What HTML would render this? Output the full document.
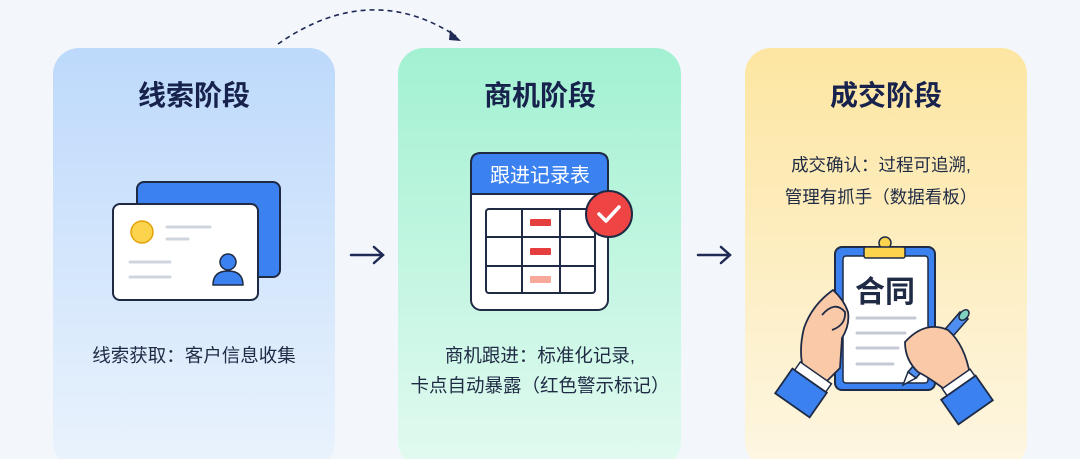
<!DOCTYPE html>
<html><head><meta charset="utf-8"><style>
html,body{margin:0;padding:0;background:#f3f7fb;}
svg{display:block}
text{font-family:"Liberation Sans","Noto Sans CJK SC",sans-serif;}
</style></head><body>
<svg width="1080" height="459" viewBox="0 0 1080 459" xmlns="http://www.w3.org/2000/svg">
<defs>
<linearGradient id="g1" x1="0" y1="0" x2="0" y2="1"><stop offset="0" stop-color="#bdd9fb"/><stop offset="1" stop-color="#eaf3fd"/></linearGradient>
<linearGradient id="g2" x1="0" y1="0" x2="0" y2="1"><stop offset="0" stop-color="#a2f1d2"/><stop offset="1" stop-color="#e2faf0"/></linearGradient>
<linearGradient id="g3" x1="0" y1="0" x2="0" y2="1"><stop offset="0" stop-color="#fde6a2"/><stop offset="1" stop-color="#fdf6e2"/></linearGradient>
</defs>
<rect width="1080" height="459" fill="#f3f7fb"/>
<rect x="53" y="48" width="282" height="420" rx="26" fill="url(#g1)"/>
<rect x="398" y="48" width="283" height="420" rx="26" fill="url(#g2)"/>
<rect x="745" y="48" width="282" height="420" rx="26" fill="url(#g3)"/>

<path d="M278 44 Q370 -20 456 36" fill="none" stroke="#1f2a55" stroke-width="1.6" stroke-dasharray="5 4"/>
<path d="M450 30 L461 41 L449 40 Z" fill="#1f2a55"/>

<g font-size="28" font-weight="bold" fill="#17224d" text-anchor="middle">
<text x="194" y="105">线索阶段</text>
<text x="540" y="105">商机阶段</text>
<text x="886" y="105">成交阶段</text>
</g>

<g stroke="#1f2a55" stroke-width="2.5" fill="none" stroke-linecap="round">
<path d="M351 255 H382 M374 247 L383 255 L374 263"/>
<path d="M698 255 H729 M721 247 L730 255 L721 263"/>
</g>

<rect x="137" y="182" width="143" height="95" rx="7" fill="#3b82f0" stroke="#1f2a44" stroke-width="2"/>
<rect x="113" y="204" width="145" height="96" rx="7" fill="#fff" stroke="#1f2a44" stroke-width="2"/>
<circle cx="142" cy="232" r="11" fill="#fcd34d" stroke="#e3a008" stroke-width="1.5"/>
<g stroke="#cfd5dd" stroke-width="3" stroke-linecap="round">
<path d="M167 227 H210 M167 239 H188"/>
<path d="M130 262 H170 M130 277 H170"/>
</g>
<circle cx="228" cy="262" r="8" fill="#3b82f0" stroke="#1f2a44" stroke-width="1.5"/>
<path d="M213 285 Q213 271 228 271 Q243 271 243 285 Z" fill="#3b82f0" stroke="#1f2a44" stroke-width="1.5"/>

<rect x="471" y="153" width="137" height="157" rx="10" fill="#fff" stroke="#1f2a44" stroke-width="2"/>
<path d="M471 194 V163 Q471 153 481 153 H598 Q608 153 608 163 V194 Z" fill="#3b82f0" stroke="#1f2a44" stroke-width="2"/>
<text x="540" y="182" font-size="20" fill="#fff" text-anchor="middle">跟进记录表</text>
<rect x="486" y="209" width="109" height="84" rx="3" fill="#fff" stroke="#1f2a44" stroke-width="2"/>
<g stroke="#1f2a44" stroke-width="2"><path d="M522 209 V293 M560 209 V293"/><path d="M486 237 H595 M486 266 H595"/></g>
<rect x="530" y="219" width="21" height="7" rx="1" fill="#e53e3e"/>
<rect x="530" y="248" width="21" height="7" rx="1" fill="#e53e3e"/>
<rect x="530" y="276" width="21" height="7" rx="1" fill="#f8a99a"/>
<circle cx="609" cy="214" r="23" fill="#ef4444" stroke="#1f2a44" stroke-width="2"/>
<path d="M599 214 L606 221 L619 207" stroke="#fff" stroke-width="3.5" fill="none" stroke-linecap="round" stroke-linejoin="round"/>

<g font-size="18.5" fill="#1f2a44" text-anchor="middle">
<text x="194" y="362">线索获取：客户信息收集</text>
<text x="540" y="362">商机跟进：标准化记录,</text>
<text x="540" y="392">卡点自动暴露（红色警示标记）</text>
</g>
<g font-size="17.5" fill="#1f2a44" text-anchor="middle">
<text x="881" y="171">成交确认：过程可追溯,</text>
<text x="881" y="203">管理有抓手（数据看板）</text>
</g>

<rect x="835" y="247" width="100" height="143" rx="7" fill="#3b82f0" stroke="#1f2a44" stroke-width="2"/>
<rect x="843" y="256" width="85" height="127" rx="3" fill="#fff" stroke="#1f2a44" stroke-width="1.5"/>
<circle cx="885" cy="243" r="6" fill="#fcd34d" stroke="#1f2a44" stroke-width="1.5"/>
<rect x="864" y="247" width="41" height="11" rx="2" fill="#fcd34d" stroke="#1f2a44" stroke-width="1.5"/>
<text x="885" y="302" font-size="30" fill="#1f2a44" text-anchor="middle" font-weight="bold">合同</text>
<g stroke="#c4cad4" stroke-width="3" stroke-linecap="round"><path d="M857 318 H915 M857 333 H905 M857 348 H898 M857 364 H893"/></g>
<path d="M833 290 Q812 305 804 328 Q798 352 804 372 L822 386 L840 368 L842 338 Q850 325 848 312 Q844 300 833 290 Z" fill="#f9c9a8" stroke="#1f2a44" stroke-width="1.8"/>
<path d="M822 315 Q835 300 845 312 Q846 325 832 330" fill="#f9c9a8" stroke="#1f2a44" stroke-width="1.8"/>
<rect x="794" y="372" width="38" height="10" transform="rotate(35 813 377)" fill="#fff" stroke="#1f2a44" stroke-width="1.5"/>
<rect x="780" y="378" width="42" height="30" transform="rotate(35 801 393)" fill="#3b82f0" stroke="#1f2a44" stroke-width="1.8"/>
<path d="M908 372 L960 312 L968 319 L916 378 Z" fill="#4f8ff2" stroke="#1f2a44" stroke-width="1.6"/>
<path d="M908 372 L903 385 L916 378 Z" fill="#fff" stroke="#1f2a44" stroke-width="1.5"/>
<ellipse cx="964" cy="315" rx="6" ry="4" transform="rotate(-48 964 315)" fill="#7dd3c0" stroke="#1f2a44" stroke-width="1.5"/>
<path d="M905 342 Q925 320 948 330 Q965 345 970 375 L965 395 L948 392 Q930 378 918 372 Q905 360 905 342 Z" fill="#f9c9a8" stroke="#1f2a44" stroke-width="1.8"/>
<rect x="942" y="378" width="34" height="10" transform="rotate(-35 959 383)" fill="#fff" stroke="#1f2a44" stroke-width="1.5"/>
<rect x="946" y="385" width="42" height="30" transform="rotate(-35 967 400)" fill="#3b82f0" stroke="#1f2a44" stroke-width="1.8"/>
</svg>
</body></html>
